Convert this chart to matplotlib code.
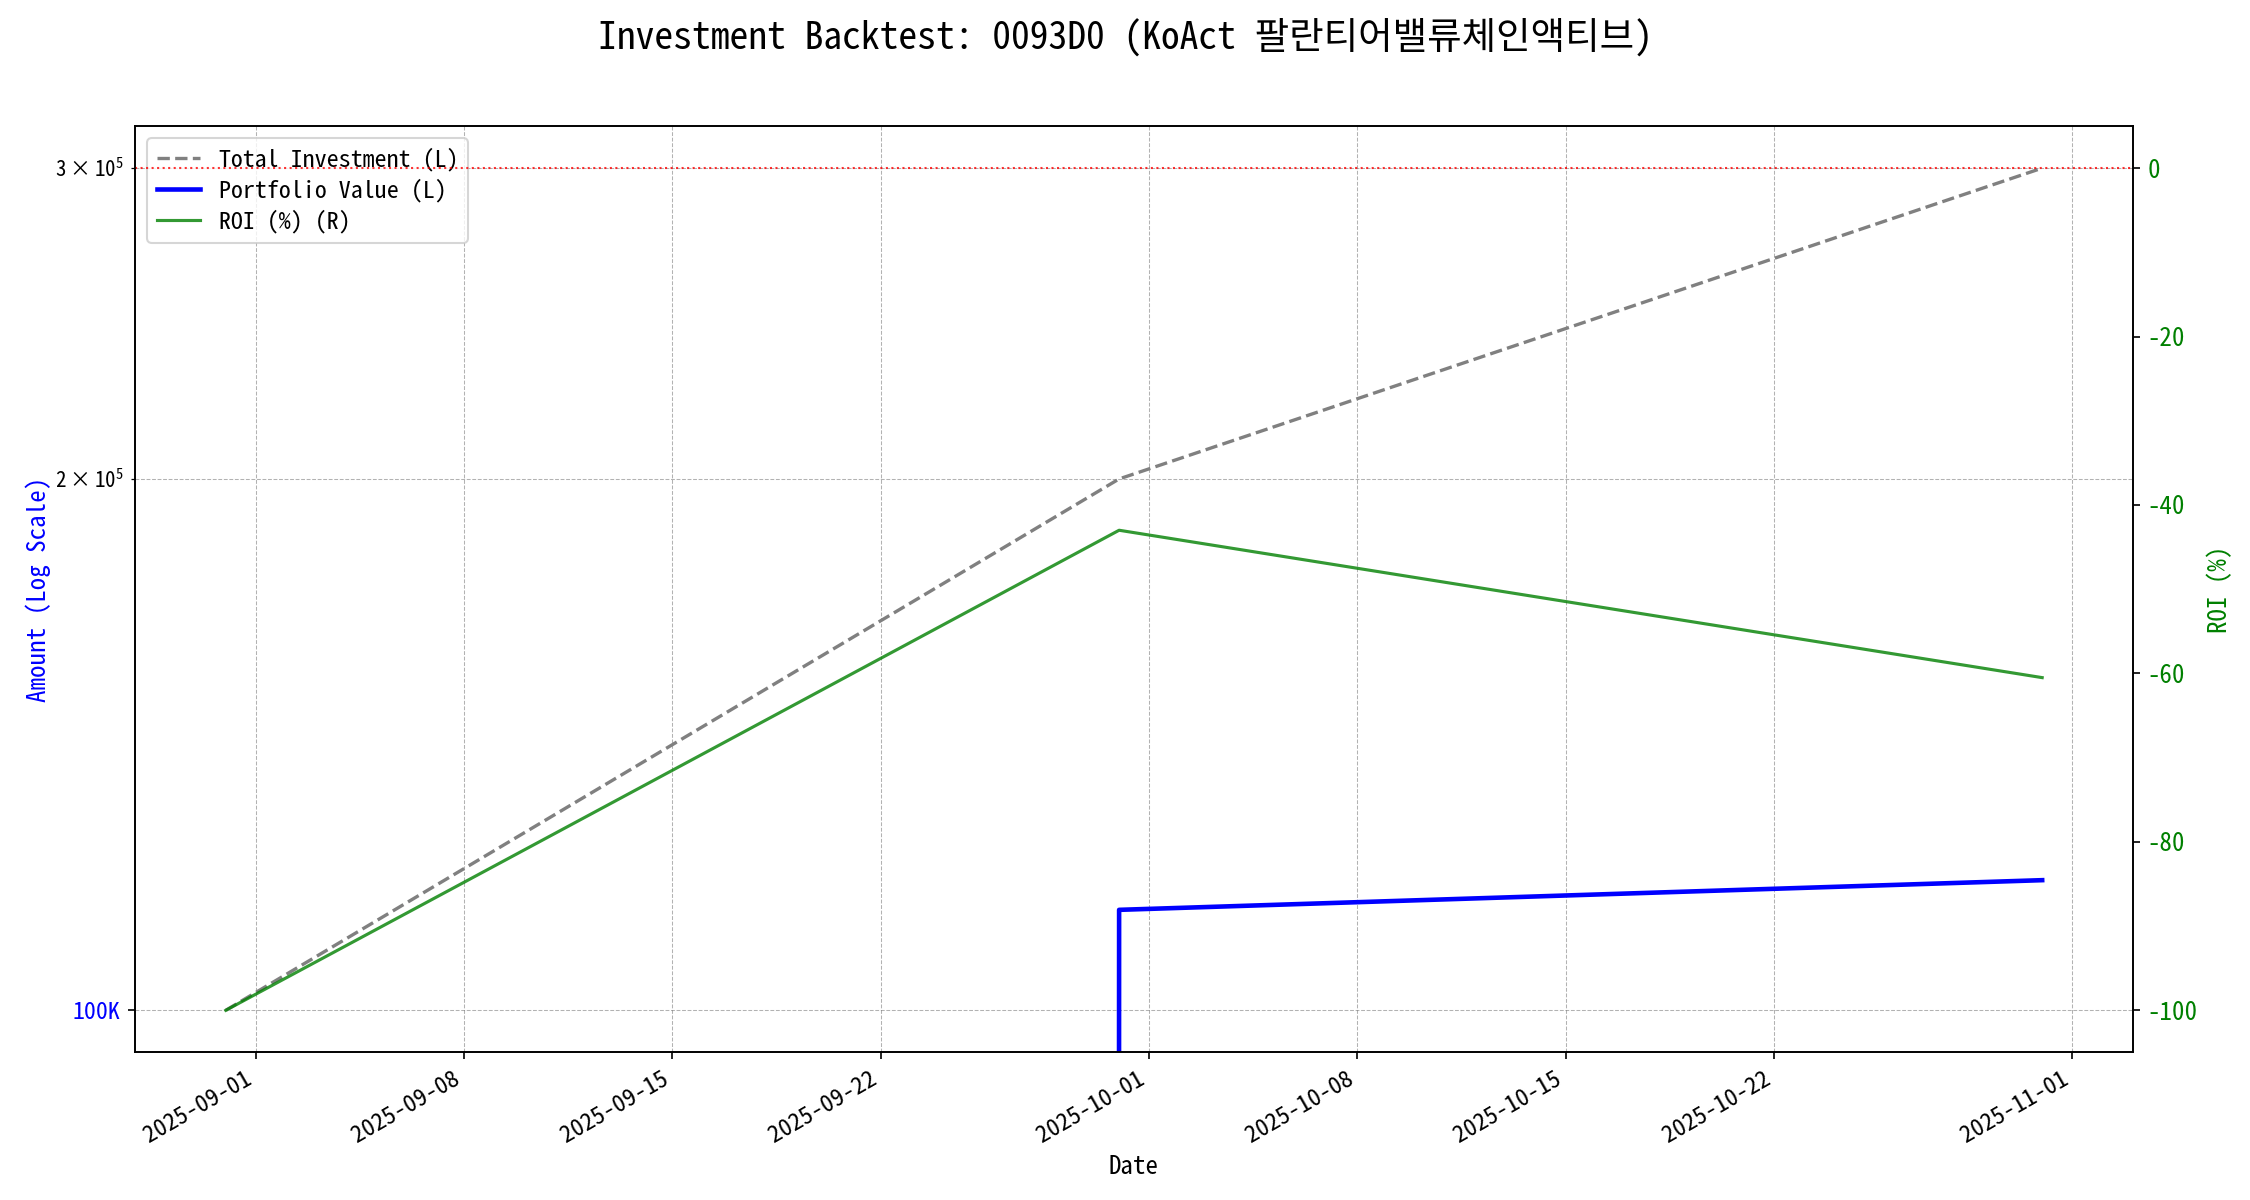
import matplotlib
matplotlib.use('Agg')
import matplotlib.pyplot as plt
from matplotlib.ticker import FuncFormatter
import pandas as pd

plt.rcParams['font.family'] = ['Noto Sans Mono CJK KR', 'DejaVu Sans Mono', 'Noto Sans CJK KR']
plt.rcParams['axes.unicode_minus'] = False

# 데이터 (월말 기준)
dates = pd.to_datetime(['2025-08-31', '2025-09-30', '2025-10-31'])
total_investment = [100000, 200000, 300000]
portfolio_value = [0, 114000, 118500]
roi_pct = [-100.0, -43.0, -60.5]

ticker = '0093D0'
name = 'KoAct 팔란티어밸류체인액티브'

fig, ax1 = plt.subplots(figsize=(15, 8), dpi=150)

# 왼쪽 축: 금액 (로그)
l1, = ax1.plot(dates, total_investment, '--', color='gray', lw=1.6, label='Total Investment (L)')
l2, = ax1.plot(dates, portfolio_value, '-', color='blue', lw=2.2, label='Portfolio Value (L)')
ax1.set_yscale('log')
ax1.yaxis.set_major_formatter(FuncFormatter(lambda x, p: f'{x/1000:.0f}K'))
ax1.set_xlabel('Date', fontsize=12)
ax1.set_ylabel('Amount (Log Scale)', color='blue', fontsize=12, labelpad=2)
ax1.tick_params(axis='y', labelcolor='blue', labelsize=11.5)
ax1.tick_params(axis='y', which='minor', labelsize=10)
ax1.tick_params(axis='x', labelsize=11.5)
ax1.grid(True, which='both', linestyle='--', linewidth=0.5, color='gray', alpha=0.6)

# 오른쪽 축: 수익률
ax2 = ax1.twinx()
l3, = ax2.plot(dates, roi_pct, '-', color='green', lw=1.5, alpha=0.8, label='ROI (%) (R)')
ax2.axhline(0, color='red', linestyle=':', lw=1, alpha=0.8)
ax2.set_ylabel('ROI (%)', color='green', fontsize=12)
ax2.tick_params(axis='y', labelcolor='green', labelsize=12)

lines = [l1, l2, l3]
ax1.legend(lines, [l.get_label() for l in lines], loc='upper left', fontsize=11.5,
           labelspacing=0.3, handlelength=1.8)

fig.suptitle(f'Investment Backtest: {ticker} ({name})', fontsize=18, y=0.985)
fig.autofmt_xdate()
fig.subplots_adjust(left=0.060, right=0.948, top=0.895, bottom=0.123)

plt.savefig('out.png', dpi=150)
